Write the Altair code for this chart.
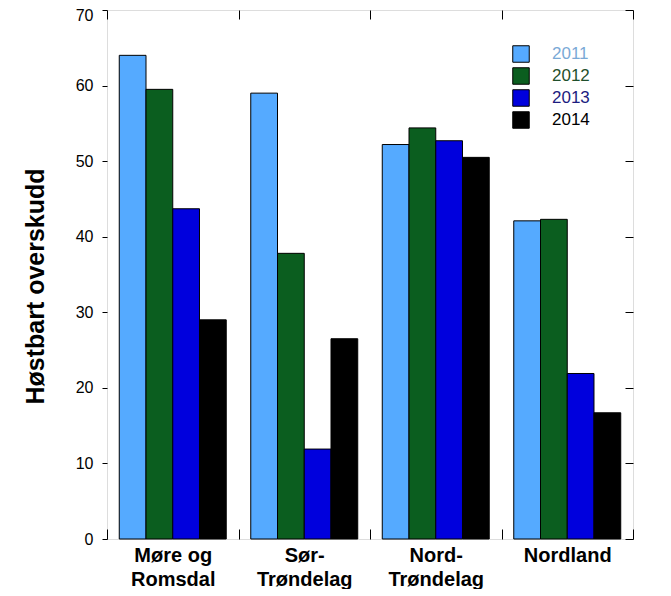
import altair as alt
import pandas as pd

regions = ["Møre og\nRomsdal", "Sør-\nTrøndelag", "Nord-\nTrøndelag", "Nordland"]
years = ["2011", "2012", "2013", "2014"]
v2011 = [64.0, 59.0, 52.2, 42.1]
v2012 = [59.5, 37.8, 54.4, 42.3]
v2013 = [43.7, 11.9, 52.7, 21.9]
v2014 = [29.0, 26.5, 50.5, 16.7]
bar_colors = ["#55aaff", "#0b5e1f", "#0000dd", "#000000"]
label_colors = ["#7aa9d6", "#1f4f2c", "#1c1c80", "#000000"]
y_ticks = [0, 10, 20, 30, 40, 50, 60, 70]

rows = []
for yr, vals in zip(years, [v2011, v2012, v2013, v2014]):
    for reg, v in zip(regions, vals):
        rows.append({"region": reg, "year": yr, "value": v})
df = pd.DataFrame(rows)

FONT = "Liberation Sans"

label_color_expr = " : ".join(
    f"datum.label == '{y}' ? '{c}'" for y, c in zip(years, label_colors)
) + " : 'black'"

x_enc = alt.X("region:N", sort=regions,
              scale=alt.Scale(paddingInner=0, paddingOuter=0),
              axis=alt.Axis(title=None, orient="bottom", domain=False, ticks=True,
                            tickSize=10, offset=-10, tickBand="extent", tickColor="black",
                            labelAngle=0, labelFont=FONT, labelFontSize=20,
                            labelFontWeight="bold", labelColor="black",
                            labelPadding=6, labelLineHeight=24,
                            labelExpr="split(datum.label, '\\n')"))

y_enc = alt.Y("value:Q",
              scale=alt.Scale(domain=[0, 70], nice=False),
              axis=alt.Axis(title="Høstbart overskudd", values=y_ticks, orient="left",
                            domain=False, tickSize=5, tickColor="black", grid=False,
                            labelFont=FONT, labelFontSize=16, labelColor="black",
                            labelPadding=9,
                            labelOffset=alt.ExprRef(expr="datum.value == 70 ? 5 : 0"),
                            titleFont=FONT, titleFontSize=25,
                            titleFontWeight="bold", titleColor="black",
                            titlePadding=27, titleY=276))

bars = alt.Chart(df).mark_bar(stroke="black", strokeWidth=1).encode(
    x=x_enc,
    xOffset=alt.XOffset("year:N", sort=years,
                        scale=alt.Scale(paddingInner=0, paddingOuter=0.458)),
    y=y_enc,
    color=alt.Color("year:N", sort=years,
                    scale=alt.Scale(domain=years, range=bar_colors),
                    legend=alt.Legend(title=None, orient="none", legendX=405, legendY=35,
                                      symbolType="square", symbolSize=272,
                                      symbolStrokeColor="black", symbolStrokeWidth=1,
                                      labelFont=FONT, labelFontSize=17,
                                      labelOffset=22, rowPadding=0, padding=0,
                                      labelColor=alt.ExprRef(expr=label_color_expr))),
)

frame_axes = alt.Chart(df).mark_bar(opacity=0).encode(
    x=alt.X("region:N", sort=regions,
            axis=alt.Axis(title=None, orient="top", domain=False, labels=False,
                          tickSize=9, offset=-9, tickBand="extent", tickColor="black")),
    y=alt.Y("value:Q",
            axis=alt.Axis(title=None, orient="right", values=y_ticks, domain=False,
                          labels=False, tickSize=8, offset=-8, tickColor="black",
                          grid=False)),
)

chart = alt.layer(bars, frame_axes).resolve_axis(x="independent", y="independent").properties(
    width=526, height=529,
    autosize=alt.AutoSizeParams(type="none"),
    padding={"left": 99, "top": 2, "right": 30, "bottom": 50},
).configure_view(stroke="black", strokeWidth=1.2).configure(background="white")

chart.save("out.html", embed_options={"renderer": "svg", "actions": False})
